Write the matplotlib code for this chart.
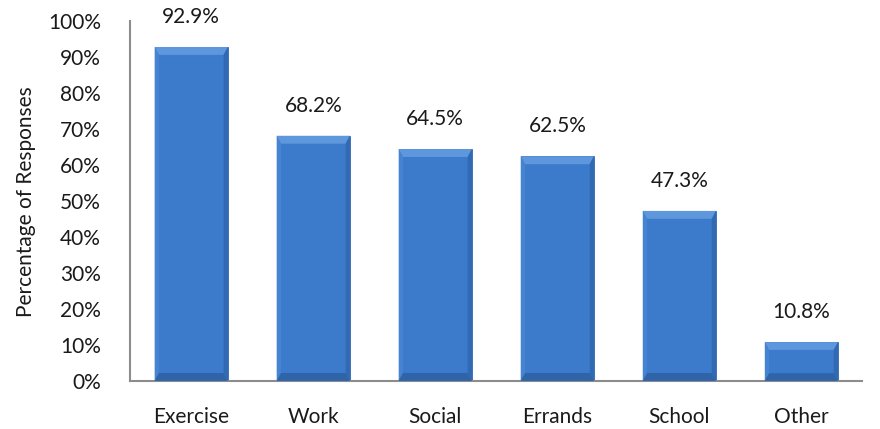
import matplotlib.pyplot as plt
from matplotlib.patches import Polygon
from matplotlib.ticker import FuncFormatter

categories = ['Exercise', 'Work', 'Social', 'Errands', 'School', 'Other']
percentages = [92.9, 68.2, 64.5, 62.5, 47.3, 10.8]
y_ticks = list(range(0, 101, 10))

plt.rcParams['font.family'] = ['Lato', 'DejaVu Sans']

fig = plt.figure(figsize=(8.8, 4.29), dpi=100)
ax = fig.add_axes([0.148, 0.112, 0.832, 0.838])

bar_width = 0.6
bars = ax.bar(range(len(categories)), percentages, width=bar_width,
              color='#3c7bcb', edgecolor='#3068b0', linewidth=0.6, zorder=2)

# bevelled top and sides on every bar
for rect in bars:
    x0 = rect.get_x()
    x1 = x0 + rect.get_width()
    h = rect.get_height()
    bx = 0.035
    by = min(2.2, h * 0.2)
    top = Polygon([(x0, h), (x1, h), (x1 - bx, h - by), (x0 + bx, h - by)],
                  closed=True, facecolor='#5f97dd', edgecolor='none', zorder=3)
    left = Polygon([(x0, h), (x0 + bx, h - by), (x0 + bx, by), (x0, 0)],
                   closed=True, facecolor='#4684d2', edgecolor='none', zorder=3)
    right = Polygon([(x1, h), (x1 - bx, h - by), (x1 - bx, by), (x1, 0)],
                    closed=True, facecolor='#3269b3', edgecolor='none', zorder=3)
    bottom = Polygon([(x0, 0), (x1, 0), (x1 - bx, by), (x0 + bx, by)],
                     closed=True, facecolor='#3064a8', edgecolor='none', zorder=3)
    for p in (top, left, right, bottom):
        ax.add_patch(p)
    ax.text(rect.get_x() + rect.get_width() / 2, h + 5.5, f'{h:.1f}%',
            ha='center', va='bottom', fontsize=15, color='#1a1a1a')

ax.set_xlim(-0.5, len(categories) - 0.5)
ax.set_ylim(0, 100)
ax.set_yticks(y_ticks)
ax.yaxis.set_major_formatter(FuncFormatter(lambda v, _: f'{v:.0f}%'))
ax.set_xticks(range(len(categories)))
ax.set_xticklabels(categories)
ax.tick_params(axis='both', length=0, labelsize=15, colors='#1a1a1a')
ax.tick_params(axis='x', pad=19)
ax.tick_params(axis='y', pad=21)
ax.set_ylabel('Percentage of Responses', fontsize=15, color='#1a1a1a', labelpad=9)

for side in ('top', 'right'):
    ax.spines[side].set_visible(False)
for side in ('left', 'bottom'):
    ax.spines[side].set_color('#8c8c8c')
    ax.spines[side].set_linewidth(1.5)

fig.savefig('out.png', dpi=100)
